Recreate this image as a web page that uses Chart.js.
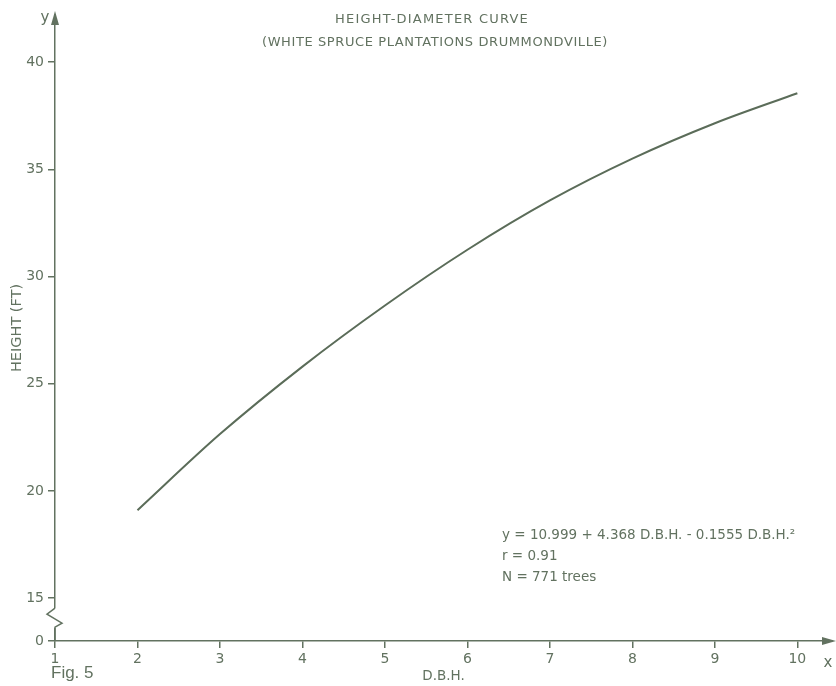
<!DOCTYPE html>
<html>
<head>
<meta charset="utf-8">
<title>Height-Diameter Curve</title>
<script src="https://cdn.jsdelivr.net/npm/chart.js@4.4.1/dist/chart.umd.min.js"></script>
<style>
  html, body { margin: 0; padding: 0; background: #fff; }
  #wrap { width: 836px; height: 686px; position: relative; }
</style>
</head>
<body>
<div id="wrap"><canvas id="grafica"></canvas></div>
<script>
// valores
const dbh = [2, 3, 4, 5, 6, 7, 8, 9, 10];
const alturas = [19.1, 22.65, 25.8, 28.65, 31.25, 33.55, 35.5, 37.15, 38.55];
const ticksX = [1, 2, 3, 4, 5, 6, 7, 8, 9, 10];
const ticksY = [13, 15, 20, 25, 30, 35, 40]; // 13 = el "0" del eje cortado
const titulo = ['HEIGHT-DIAMETER CURVE', '(WHITE SPRUCE PLANTATIONS DRUMMONDVILLE)'];
const notas = ['y = 10.999 + 4.368 D.B.H. - 0.1555 D.B.H.\u00B2', 'r = 0.91', 'N = 771 trees'];

const tinta = '#627260';
const linea = '#5b6c59';

Chart.defaults.font.family = "'DejaVu Sans', sans-serif";
Chart.defaults.color = tinta;

// textos sueltos, flechas y el corte del eje y
const extras = {
  id: 'extras',
  afterDraw(chart) {
    const c = chart.ctx;
    const a = chart.chartArea;
    const sy = chart.scales.y;
    c.save();
    c.fillStyle = tinta;
    c.strokeStyle = tinta;
    c.lineWidth = 1.5;

    // corte del eje
    const y15 = sy.getPixelForValue(15);
    const y0 = sy.getPixelForValue(13);
    c.fillStyle = '#fff';
    c.fillRect(a.left - 3, y15 + 10, 6, 20);
    c.beginPath();
    c.moveTo(a.left, y15 + 10);
    c.lineTo(a.left - 8, y15 + 16);
    c.lineTo(a.left + 7, y15 + 25);
    c.lineTo(a.left, y15 + 29);
    c.lineTo(a.left, y0);
    c.stroke();

    // flechas
    c.fillStyle = tinta;
    c.beginPath();
    c.moveTo(a.left, a.top - 4);
    c.lineTo(a.left - 4, a.top + 10);
    c.lineTo(a.left + 4, a.top + 10);
    c.closePath();
    c.fill();
    c.beginPath();
    c.moveTo(a.right + 4, a.bottom);
    c.lineTo(a.right - 10, a.bottom - 4);
    c.lineTo(a.right - 10, a.bottom + 4);
    c.closePath();
    c.fill();

    // titulo
    c.textAlign = 'center';
    c.textBaseline = 'middle';
    c.font = "13px 'DejaVu Sans'";
    c.letterSpacing = '1.2px';
    c.fillText(titulo[0], 432, 20);
    c.letterSpacing = '0.6px';
    c.fillText(titulo[1], 435, 43);
    c.letterSpacing = '0px';

    c.font = "15px 'DejaVu Sans'";
    c.fillText('y', 45, 18);
    c.fillText('x', 828, 663);

    // ecuacion
    c.textAlign = 'left';
    c.font = "13.5px 'DejaVu Sans'";
    notas.forEach((t, i) => c.fillText(t, 502, 535 + i * 21));

    c.font = "17px 'Liberation Sans'";
    c.fillText('Fig. 5', 51, 673);
    c.restore();
  }
};

const ctx = document.getElementById('grafica');
new Chart(ctx, {
  type: 'line',
  data: {
    datasets: [{
      data: dbh.map((d, i) => ({ x: d, y: alturas[i] })),
      borderColor: linea,
      borderWidth: 2,
      pointRadius: 0,
      cubicInterpolationMode: 'monotone',
      fill: false
    }]
  },
  options: {
    responsive: true,
    maintainAspectRatio: false,
    animation: false,
    layout: { padding: { top: 15, right: 4, left: 0, bottom: 0 } },
    plugins: {
      legend: { display: false },
      tooltip: { enabled: false }
    },
    scales: {
      x: {
        type: 'linear',
        min: 1,
        max: 10.42,
        afterFit: (s) => { s.height = 45; },
        afterBuildTicks: (s) => { s.ticks = ticksX.map((v) => ({ value: v })); },
        border: { display: true, color: tinta, width: 1.5 },
        grid: { drawOnChartArea: false, drawTicks: true, tickLength: 7, color: tinta, lineWidth: 1.5 },
        ticks: { padding: 3, font: { size: 14 }, color: tinta },
        title: { display: true, text: 'D.B.H.', font: { size: 13.5 }, color: tinta, padding: { top: 0, bottom: 1 } }
      },
      y: {
        type: 'linear',
        min: 13,
        max: 42.2,
        afterFit: (s) => { s.width = 55; },
        afterBuildTicks: (s) => { s.ticks = ticksY.map((v) => ({ value: v })); },
        border: { display: true, color: tinta, width: 1.5 },
        grid: { drawOnChartArea: false, drawTicks: true, tickLength: 7, color: tinta, lineWidth: 1.5 },
        ticks: {
          padding: 4,
          font: { size: 14 },
          color: tinta,
          callback: (v) => (v === 13 ? '0' : v)
        },
        title: { display: true, text: 'HEIGHT (FT)', font: { size: 14.5 }, color: tinta, padding: { top: 9, bottom: 0 } }
      }
    }
  },
  plugins: [extras]
});
</script>
</body>
</html>
